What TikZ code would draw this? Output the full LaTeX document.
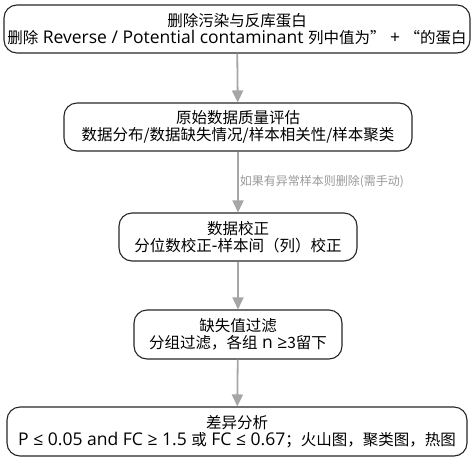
\documentclass[tikz,border=0pt]{standalone}
\usepackage{fontspec}
\setmainfont{Noto Sans CJK SC}
\newfontfamily\lat[Scale=1.13]{Open Sans}
\usetikzlibrary{arrows.meta}

\begin{document}
\begin{tikzpicture}[x=1pt, y=-1pt,
  stepbox/.style={draw=black!85, line width=1.1pt, rounded corners=13pt, align=center, inner sep=0pt, font=\fontsize{15.5}{17}\selectfont},
  flow/.style={draw=black!35, line width=1.8pt, -{Triangle[width=11pt,length=12pt]}},
  note/.style={text=black!40, font=\fontsize{12}{14}\selectfont}]

\useasboundingbox (0,0) rectangle (476,461);

% steps
\node[stepbox, minimum width=466pt, minimum height=48pt] (clean) at (237,29) {删除污染与反库蛋白\\删除{\lat\ Reverse / Potential contaminant }列中值为”{\lat\ + }“的蛋白};
\node[stepbox, minimum width=348pt, minimum height=48pt] (qc) at (238,127) {原始数据质量评估\\数据分布/数据缺失情况/样本相关性/样本聚类};
\node[stepbox, minimum width=238pt, minimum height=48pt] (norm) at (238,237) {数据校正\\分位数校正{\lat -}样本间（列）校正};
\node[stepbox, minimum width=208pt, minimum height=49pt] (filter) at (238,334.5) {缺失值过滤\\分组过滤，各组{\lat\ n ≥}3留下};
\node[stepbox, minimum width=460pt, minimum height=49pt] (diff) at (237,431.5) {差异分析\\{\lat P ≤ 0.05 and FC ≥ 1.5 }或{\lat\ FC ≤ 0.67}；火山图，聚类图，热图};

% arrows
\draw[flow] (clean) -- (qc);
\draw[flow] (qc) -- node[note, right, inner sep=1pt] {如果有异常样本则删除(需手动)} (norm);
\draw[flow] (norm) -- (filter);
\draw[flow] (filter) -- (diff);

\end{tikzpicture}
\end{document}
